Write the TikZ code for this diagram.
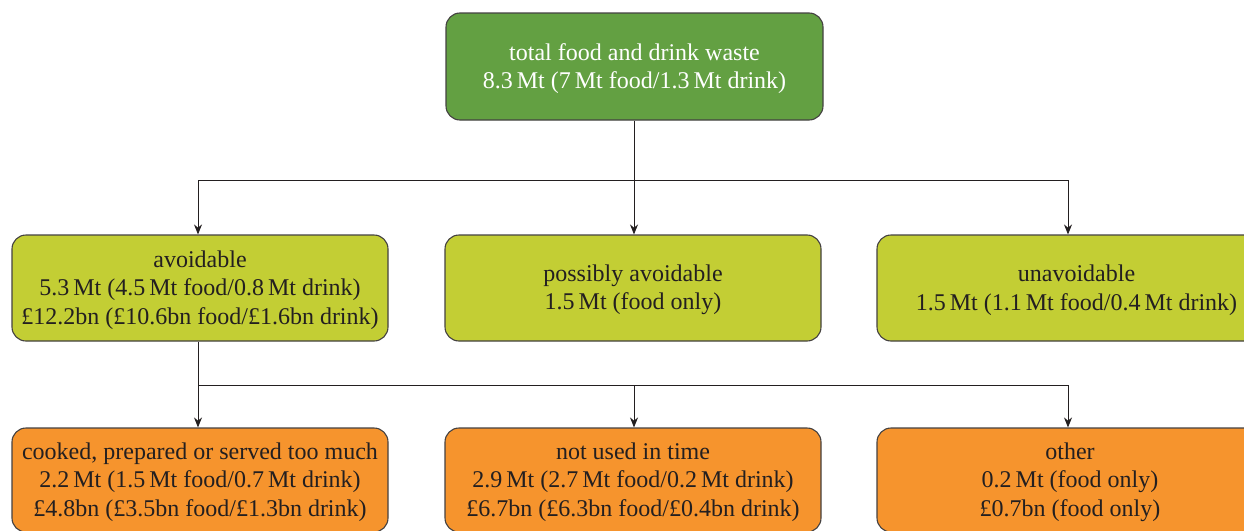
\documentclass[tikz,border=0pt]{standalone}
\usepackage{fontspec}
\setmainfont{Liberation Serif}
\usetikzlibrary{arrows.meta}
\definecolor{topgreen}{RGB}{99,160,66}
\definecolor{lime}{RGB}{195,206,52}
\definecolor{orng}{RGB}{246,148,45}
\definecolor{ink}{RGB}{35,31,32}
\tikzset{
  box/.style={draw=ink!85, line width=1.1pt, rounded corners=14pt, align=center,
    inner sep=0pt, font=\fontsize{24}{28.5}\selectfont, text=ink},
  label text/.style={align=center, inner sep=0pt, font=\fontsize{24}{28.5}\selectfont, text=ink},
  topbox/.style={box, fill=topgreen, minimum width=377pt, minimum height=107pt},
  midbox/.style={box, fill=lime, minimum height=106pt},
  lowbox/.style={box, fill=orng, minimum height=104pt},
  conn/.style={draw=ink, line width=0.9pt},
  arr/.style={conn, -{Stealth[length=10pt,width=8pt]}}
}
\begin{document}
\begin{tikzpicture}[x=1pt,y=-1pt]
\useasboundingbox (0,0) rectangle (1244,530);
\clip (0,0) rectangle (1244,530);
\node[topbox] (top) at (634.5,66.5) {};
\node[label text, text=white] (topT) at ([yshift=-2pt]top.center) {total food and drink waste\\8.3\,Mt (7\,Mt food/1.3\,Mt drink)};
\node[midbox, minimum width=376pt] (avoid) at (200,288) {};
\node[label text] (avoidT) at ([yshift=-2pt]avoid.center) {avoidable\\5.3\,Mt (4.5\,Mt food/0.8\,Mt drink)\\\pounds 12.2bn (\pounds 10.6bn food/\pounds 1.6bn drink)};
\node[midbox, minimum width=376pt] (poss) at (633,288) {};
\node[label text] (possT) at ([yshift=-2pt]poss.center) {possibly avoidable\\1.5\,Mt (food only)};
\node[midbox, minimum width=399pt] (unav) at (1076.5,288) {};
\node[label text] (unavT) at ([yshift=-2pt]unav.center) {unavoidable\\1.5\,Mt (1.1\,Mt food/0.4\,Mt drink)};
\node[lowbox, minimum width=376pt] (cook) at (200,480) {};
\node[label text] (cookT) at ([yshift=-2pt]cook.center) {cooked, prepared or served too much\\2.2\,Mt (1.5\,Mt food/0.7\,Mt drink)\\\pounds 4.8bn (\pounds 3.5bn food/\pounds 1.3bn drink)};
\node[lowbox, minimum width=376pt] (nuit) at (633,480) {};
\node[label text] (nuitT) at ([yshift=-2pt]nuit.center) {not used in time\\2.9\,Mt (2.7\,Mt food/0.2\,Mt drink)\\\pounds 6.7bn (\pounds 6.3bn food/\pounds 0.4bn drink)};
\node[lowbox, minimum width=386pt] (other) at (1070,480) {};
\node[label text] (otherT) at ([yshift=-2pt]other.center) {other\\0.2\,Mt (food only)\\\pounds 0.7bn (food only)};
% junctions
\coordinate (j1) at (634,180);
\coordinate (jL) at (198,180);
\coordinate (jR) at (1068,180);
\coordinate (k1) at (198,385);
\coordinate (kM) at (634,385);
\coordinate (kR) at (1068,385);
\draw[conn] (top.south -| j1) -- (j1);
\draw[conn] (jL) -- (jR);
\draw[arr] (jL) -- (jL |- avoid.north);
\draw[arr] (j1) -- (j1 |- poss.north);
\draw[arr] (jR) -- (jR |- unav.north);
\draw[conn] (avoid.south -| k1) -- (k1);
\draw[conn] (k1) -- (kR);
\draw[arr] (k1) -- (k1 |- cook.north);
\draw[arr] (kM) -- (kM |- nuit.north);
\draw[arr] (kR) -- (kR |- other.north);
\end{tikzpicture}
\end{document}
